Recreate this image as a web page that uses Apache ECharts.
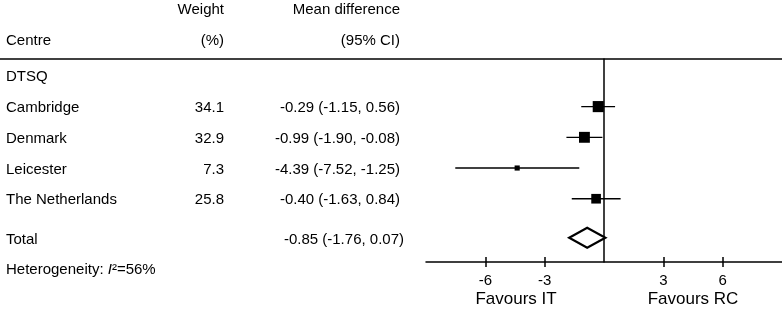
<!DOCTYPE html>
<html>
<head>
<meta charset="utf-8">
<script src="https://cdn.jsdelivr.net/npm/echarts@6/dist/echarts.min.js"></script>
<style>
  html, body { margin: 0; padding: 0; background: #fff; }
  #forest { width: 782px; height: 310px; }
</style>
</head>
<body>
<div id="forest"></div>
<script>
// data
const centres = ['Cambridge', 'Denmark', 'Leicester', 'The Netherlands'];
const weights = [34.1, 32.9, 7.3, 25.8];
const meanDiff = [-0.29, -0.99, -4.39, -0.40];
const ciLow = [-1.15, -1.90, -7.52, -1.63];
const ciHigh = [0.56, -0.08, -1.25, 0.84];
const ciText = ['-0.29 (-1.15, 0.56)', '-0.99 (-1.90, -0.08)', '-4.39 (-7.52, -1.25)', '-0.40 (-1.63, 0.84)'];
const totalMean = -0.85;
const totalLow = -1.76;
const totalHigh = 0.07;
const totalText = '-0.85 (-1.76, 0.07)';
const xTicks = [-6, -3, 3, 6];

// row slots on the y axis (layout)
const rowIdx = [1, 2, 3, 4];
const totalRow = 5.27;

const FONT = '"Liberation Sans", Arial, Helvetica, sans-serif';
const chart = echarts.init(document.getElementById('forest'));

function txt(text, x, y, align, size) {
    return {
        type: 'text', silent: true,
        style: {
            text: text, x: x, y: y,
            align: align, textAlign: align,
            verticalAlign: 'middle', textVerticalAlign: 'middle',
            font: (size || 15) + 'px ' + FONT, fill: '#000'
        }
    };
}

const rowTextY = [108, 139, 170, 200];
let graphics = [
    txt('Weight', 224, 10, 'right'),
    txt('Mean difference', 400, 10, 'right'),
    txt('Centre', 6, 41, 'left'),
    txt('(%)', 224, 41, 'right'),
    txt('(95% CI)', 400, 41, 'right'),
    txt('DTSQ', 6, 77, 'left'),
    txt('Total', 6, 240, 'left'),
    txt(totalText, 404, 240, 'right'),
    txt('Favours IT', 516, 299, 'center', 17),
    txt('Favours RC', 693, 299, 'center', 17),
    {
        type: 'text', silent: true,
        style: {
            text: 'Heterogeneity: {i|I}²=56%', x: 6, y: 270,
            align: 'left', textAlign: 'left',
            verticalAlign: 'middle', textVerticalAlign: 'middle',
            font: '15px ' + FONT, fill: '#000',
            rich: { i: { fontStyle: 'italic', fontSize: 15, fontFamily: FONT } }
        }
    },
    {
        type: 'line', silent: true,
        shape: { x1: 0, y1: 59, x2: 782, y2: 59 },
        style: { stroke: '#000', lineWidth: 1.5 }
    }
];
centres.forEach(function (c, i) {
    graphics.push(txt(c, 6, rowTextY[i], 'left'));
    graphics.push(txt(weights[i].toFixed(1), 224, rowTextY[i], 'right'));
    graphics.push(txt(ciText[i], 400, rowTextY[i], 'right'));
});

const studyData = centres.map(function (c, i) {
    return [meanDiff[i], rowIdx[i], ciLow[i], ciHigh[i], weights[i]];
});

const gridBox = { left: 426, right: 0, top: 59, bottom: 48 };

chart.setOption({
    animation: false,
    textStyle: { fontFamily: FONT },
    grid: [gridBox, gridBox],
    xAxis: [{
        type: 'value', min: -9, max: 9, interval: 3, gridIndex: 0,
        splitLine: { show: false },
        axisLine: { onZero: false, lineStyle: { color: '#000', width: 1.5 } },
        axisTick: { customValues: xTicks, length: 5, lineStyle: { color: '#000', width: 1.5 } },
        axisLabel: { customValues: xTicks, color: '#000', fontSize: 15, margin: 11 }
    }, {
        // inner half of the crossing ticks
        type: 'value', min: -9, max: 9, interval: 3, gridIndex: 1, position: 'bottom',
        splitLine: { show: false },
        axisLine: { show: false, onZero: false },
        axisTick: { customValues: xTicks, inside: true, length: 5, lineStyle: { color: '#000', width: 1.5 } },
        axisLabel: { show: false }
    }],
    yAxis: [{
        type: 'value', min: -0.55, max: 6.06, inverse: true, gridIndex: 0,
        splitLine: { show: false },
        axisTick: { show: false },
        axisLabel: { show: false },
        axisLine: { show: true, onZero: true, lineStyle: { color: '#000', width: 1.5 } }
    }, {
        type: 'value', min: 0, max: 1, gridIndex: 1, show: false
    }],
    graphic: graphics,
    series: [{
        type: 'custom',
        data: studyData,
        encode: { x: [0, 2, 3], y: 1 },
        renderItem: function (params, api) {
            const row = api.value(1);
            const c = api.coord([api.value(0), row]);
            const lo = api.coord([api.value(2), row]);
            const hi = api.coord([api.value(3), row]);
            const s = 1.9 * Math.sqrt(api.value(4));
            return {
                type: 'group',
                children: [{
                    type: 'line',
                    shape: { x1: lo[0], y1: lo[1], x2: hi[0], y2: hi[1] },
                    style: { stroke: '#000', lineWidth: 1.3 }
                }, {
                    type: 'rect',
                    shape: { x: c[0] - s / 2, y: c[1] - s / 2, width: s, height: s },
                    style: { fill: '#000' }
                }]
            };
        }
    }, {
        type: 'custom',
        data: [[totalMean, totalRow, totalLow, totalHigh]],
        encode: { x: [0, 2, 3], y: 1 },
        renderItem: function (params, api) {
            const row = api.value(1);
            const c = api.coord([api.value(0), row]);
            const lo = api.coord([api.value(2), row]);
            const hi = api.coord([api.value(3), row]);
            const h = 10;
            return {
                type: 'polygon',
                shape: { points: [[lo[0], lo[1]], [c[0], c[1] - h], [hi[0], hi[1]], [c[0], c[1] + h]] },
                style: { fill: '#fff', stroke: '#000', lineWidth: 2.2 }
            };
        }
    }]
});
</script>
</body>
</html>
